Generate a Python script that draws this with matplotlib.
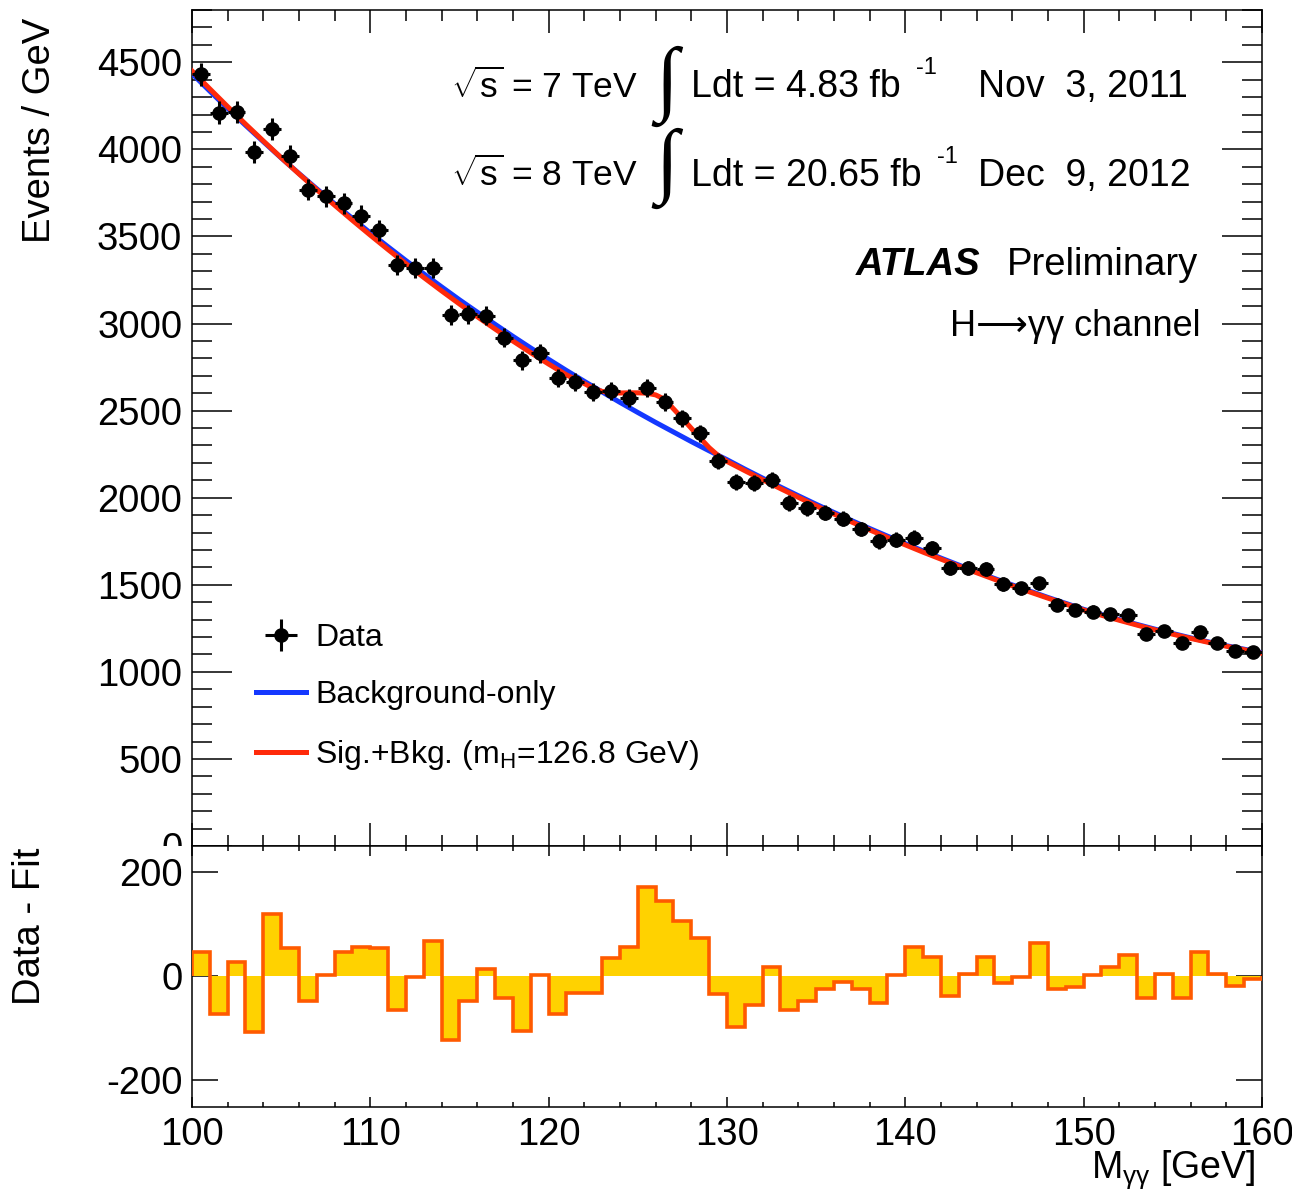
import numpy as np
import matplotlib
matplotlib.use("Agg")
import matplotlib.pyplot as plt
from matplotlib.ticker import MultipleLocator
from matplotlib.patches import Rectangle

plt.rcParams['font.family'] = ['Liberation Sans', 'DejaVu Sans']
plt.rcParams['mathtext.fontset'] = 'custom'
plt.rcParams['mathtext.rm'] = 'Liberation Sans'
plt.rcParams['mathtext.it'] = 'Liberation Sans:italic'
plt.rcParams['mathtext.bf'] = 'Liberation Sans:bold'
plt.rcParams['axes.unicode_minus'] = False

# 1 GeV bins from 100 to 160 GeV
edges = np.arange(100, 161, 1)
centers = edges[:-1] + 0.5

# events / GeV in each bin
data = [4431, 4211, 4214, 3983, 4117, 3960, 3768, 3731, 3691, 3618,
        3534, 3335, 3321, 3316, 3049, 3052, 3044, 2918, 2788, 2828,
        2688, 2666, 2605, 2611, 2574, 2632, 2550, 2456, 2370, 2210,
        2092, 2083, 2104, 1970, 1939, 1913, 1880, 1820, 1749, 1759,
        1771, 1711, 1594, 1597, 1592, 1505, 1479, 1508, 1384, 1355,
        1345, 1332, 1326, 1217, 1236, 1166, 1230, 1164, 1121, 1115]

# data - background fit
resid = [46, -74, 27, -108, 119, 54, -49, 1, 46, 56,
         54, -66, -2, 68, -124, -49, 14, -43, -105, 1,
         -74, -33, -33, 34, 56, 171, 145, 106, 74, -34,
         -99, -55, 17, -66, -48, -26, -12, -26, -52, 1,
         56, 37, -39, 3, 37, -13, -2, 63, -26, -21,
         1, 17, 40, -42, 3, -42, 46, 3, -19, -5]

# background-only fit
bkg_x = np.arange(100, 161)
bkg = [4435, 4334, 4235, 4138, 4044, 3951, 3861, 3773, 3687, 3603,
       3520, 3440, 3361, 3285, 3210, 3136, 3065, 2995, 2926, 2859,
       2794, 2730, 2668, 2607, 2547, 2489, 2432, 2377, 2322, 2269,
       2218, 2164, 2112, 2061, 2011, 1962, 1915, 1868, 1823, 1779,
       1736, 1694, 1653, 1613, 1574, 1536, 1499, 1463, 1427, 1393,
       1359, 1329, 1300, 1272, 1245, 1220, 1195, 1172, 1150, 1130, 1110]

# signal + background fit
sb_x = [100, 101, 102, 103, 104, 105, 106, 107, 108, 109,
        110, 111, 112, 113, 114, 115, 116, 117, 118, 119,
        120, 121, 122, 122.5, 123, 123.5, 124, 124.5, 125, 125.5,
        126, 126.5, 127, 127.5, 128, 128.5, 129, 129.5, 130, 131,
        132, 133, 134, 135, 136, 137, 138, 139, 140, 141,
        142, 143, 144, 145, 146, 147, 148, 149, 150, 151,
        152, 153, 154, 155, 156, 157, 158, 159, 160]
sb = [4450, 4347, 4245, 4145, 4048, 3952, 3859, 3768, 3679, 3592,
      3507, 3424, 3343, 3264, 3187, 3112, 3039, 2968, 2899, 2832,
      2767, 2705, 2655, 2628, 2610, 2603, 2601, 2602, 2602, 2600,
      2590, 2565, 2510, 2455, 2398, 2342, 2287, 2242, 2208, 2155,
      2103, 2052, 2002, 1953, 1906, 1860, 1815, 1771, 1729, 1687,
      1647, 1607, 1569, 1531, 1494, 1458, 1423, 1389, 1355, 1325,
      1296, 1268, 1241, 1216, 1192, 1169, 1147, 1127, 1106]

sb_label = 'Sig.+Bkg. (m$_{\\mathrm{H}}$=126.8 GeV)'

W, H = 1292, 1189
fig = plt.figure(figsize=(W / 100, H / 100), dpi=100)


def px(x, y):
    return x / W, 1 - y / H


ax1 = fig.add_axes([192 / W, 1 - 846 / H, 1070 / W, 836 / H])
ax2 = fig.add_axes([192 / W, 1 - 1107 / H, 1070 / W, 261 / H])

# main panel
ax1.plot(bkg_x, bkg, color='#1438ff', lw=3.6, label='Background-only', zorder=3)
ax1.plot(sb_x, sb, color='#ff2a0a', lw=3.6, label=sb_label, zorder=4)
ax1.errorbar(centers, data, xerr=0.5, yerr=np.sqrt(data), fmt='o', color='black',
             ms=9.5, elinewidth=2.2, capsize=0, label='Data', zorder=5)

ax1.set_xlim(100, 160)
ax1.set_ylim(0, 4800)
ax1.xaxis.set_major_locator(MultipleLocator(10))
ax1.xaxis.set_minor_locator(MultipleLocator(2))
ax1.yaxis.set_major_locator(MultipleLocator(500))
ax1.yaxis.set_minor_locator(MultipleLocator(100))
ax1.tick_params(which='both', direction='in', top=True, right=True, width=1.1,
                labelbottom=False, labelsize=27.5, pad=7)
ax1.tick_params(axis='y', which='major', length=29)
ax1.tick_params(axis='y', which='minor', length=14.5)
ax1.tick_params(axis='x', which='major', length=16.5)
ax1.tick_params(axis='x', which='minor', length=8)

handles, labels = ax1.get_legend_handles_labels()
order = [labels.index('Data'), labels.index('Background-only'), labels.index(sb_label)]
ax1.legend([handles[i] for i in order], [labels[i] for i in order],
           loc='upper left', bbox_to_anchor=(0.06, 0.267), frameon=False,
           fontsize=23, handlelength=1.55, handletextpad=0.3, labelspacing=0.86,
           borderpad=0, borderaxespad=0)

# lower panel
ax2.stairs(resid, edges, baseline=0, fill=True, color='#ffd200', lw=0, zorder=2)
ax2.stairs(resid, edges, baseline=0, color='#ff5a00', lw=2.6, zorder=3)
ax2.set_xlim(100, 160)
ax2.set_ylim(-252, 250)
ax2.xaxis.set_major_locator(MultipleLocator(10))
ax2.xaxis.set_minor_locator(MultipleLocator(2))
ax2.yaxis.set_major_locator(MultipleLocator(200))
ax2.tick_params(which='both', direction='in', top=True, right=True, width=1.1,
                labelsize=27.5, pad=7)
ax2.tick_params(axis='y', which='major', length=19)
ax2.tick_params(axis='x', which='major', length=7.5)
ax2.tick_params(axis='x', which='minor', length=3.8)
ax2.add_patch(Rectangle((-0.17, 0), 0.17, 1, transform=ax2.transAxes,
                        facecolor='white', edgecolor='none', clip_on=False, zorder=1))

for a in (ax1, ax2):
    for s in a.spines.values():
        s.set_linewidth(1.1)

# axis titles
fig.text(*px(40, 18), 'Events / GeV', rotation=90, ha='center', va='top', fontsize=27.5)
fig.text(*px(30, 848), 'Data - Fit', rotation=90, ha='center', va='top', fontsize=27.5)
fig.text(*px(1256, 1178), 'M$_{\\mathrm{γγ}}$ [GeV]', ha='right', va='baseline', fontsize=27)

# annotations
fs = 27
fig.text(*px(451, 98), '$\\sqrt{\\mathrm{s}}$ = 7 TeV', ha='left', va='baseline', fontsize=25.5)
fig.text(*px(451, 186), '$\\sqrt{\\mathrm{s}}$ = 8 TeV', ha='left', va='baseline', fontsize=25.5)
fig.text(*px(667, 86), '∫', ha='center', va='center', fontsize=60, family='Liberation Serif')
fig.text(*px(667, 168), '∫', ha='center', va='center', fontsize=60, family='Liberation Serif')
fig.text(*px(691, 97), 'Ldt = 4.83 fb', ha='left', va='baseline', fontsize=fs)
fig.text(*px(916, 74), '-1', ha='left', va='baseline', fontsize=17)
fig.text(*px(691, 186), 'Ldt = 20.65 fb', ha='left', va='baseline', fontsize=fs)
fig.text(*px(937, 163), '-1', ha='left', va='baseline', fontsize=17)
fig.text(*px(978, 97), 'Nov  3, 2011', ha='left', va='baseline', fontsize=fs)
fig.text(*px(978, 186), 'Dec  9, 2012', ha='left', va='baseline', fontsize=fs)
fig.text(*px(856, 275), 'ATLAS', ha='left', va='baseline', fontsize=27.5,
         fontweight='bold', fontstyle='italic')
fig.text(*px(1198, 275), 'Preliminary', ha='right', va='baseline', fontsize=27.5)
fig.text(*px(1200, 336), 'H⟶γγ channel', ha='right', va='baseline', fontsize=26)

fig.savefig('out.png', dpi=100)
